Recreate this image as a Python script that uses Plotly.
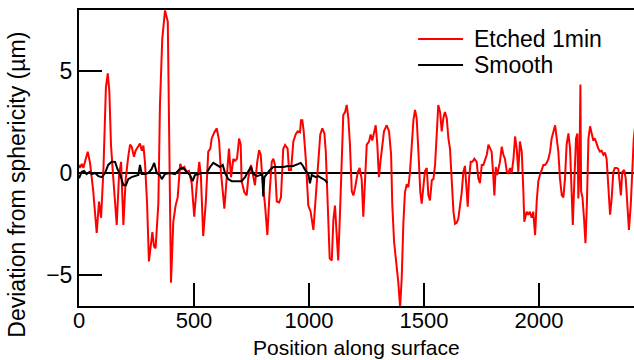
import plotly.graph_objects as go

# Etched 1min profile (position along surface, deviation in µm)
etched_x = [0, 4, 12, 19, 26, 38, 48, 62, 77, 87, 96, 106, 117, 125, 132, 139, 149, 164, 174, 183,
            193, 203, 214, 222, 229, 239, 246, 255, 265, 273, 280, 287, 296, 304, 319, 326, 333, 345,
            352, 362, 374, 386, 391, 400, 410, 420, 429, 435, 440, 449, 458, 468, 478, 490, 501, 512,
            523, 530, 540, 551, 562, 571, 577, 588, 599, 609, 617, 632, 642, 652, 661, 671, 678, 687,
            696, 703, 707, 719, 729, 736, 748, 758, 765, 775, 783, 790, 797, 809, 819, 828, 838, 845,
            852, 860, 870, 878, 888, 896, 907, 913, 922, 932, 942, 951, 961, 965, 971, 977, 986, 997,
            1007, 1019, 1029, 1041, 1049, 1058, 1067, 1073, 1081, 1090, 1099, 1106, 1113, 1120, 1127,
            1135, 1142, 1149, 1157, 1164, 1171, 1178, 1186, 1193, 1200, 1212, 1220, 1229, 1236, 1243,
            1251, 1261, 1268, 1275, 1283, 1290, 1297, 1304, 1312, 1319, 1326, 1338, 1348, 1357, 1362,
            1370, 1381, 1388, 1396, 1403, 1410, 1417, 1425, 1432, 1439, 1447, 1454, 1461, 1468, 1475,
            1484, 1490, 1497, 1504, 1512, 1519, 1526, 1534, 1541, 1548, 1555, 1562, 1570, 1577, 1584,
            1591, 1599, 1606, 1613, 1621, 1628, 1635, 1642, 1649, 1656, 1664, 1671, 1678, 1686, 1690,
            1696, 1703, 1710, 1719, 1729, 1736, 1743, 1751, 1758, 1765, 1773, 1780, 1787, 1794, 1801,
            1806, 1812, 1818, 1830, 1838, 1845, 1852, 1860, 1867, 1874, 1881, 1889, 1896, 1903, 1910,
            1917, 1925, 1932, 1936, 1946, 1953, 1960, 1968, 1975, 1983, 1990, 1997, 2004, 2012, 2019,
            2026, 2033, 2041, 2048, 2055, 2062, 2070, 2077, 2084, 2091, 2099, 2106, 2113, 2120, 2128,
            2135, 2142, 2147, 2154, 2161, 2167, 2171, 2176, 2180, 2183, 2189, 2196, 2202, 2208, 2215,
            2222, 2229, 2236, 2243, 2251, 2258, 2265, 2272, 2280, 2287, 2294, 2301, 2309, 2316, 2323,
            2330, 2338, 2345, 2356, 2362, 2370, 2377, 2384, 2391, 2399, 2406, 2412, 2420]
etched_y = [0.4, 0.25, 0.45, 0.25, 0.55, 1.05, 0.5, -0.9, -2.95, -1.4, -2.2, 0.1, 4.2, 4.9, 4.0, 1.4,
            -0.25, -2.55, -0.1, 0.55, -2.55, -0.3, 0.8, 1.4, 1.3, 0.8, 1.1, 1.3, 1.45, 1.1, 1.35, 0.5,
            -1.5, -4.35, -2.9, -3.6, -3.7, -1.5, 3.35, 6.6, 8.0, 7.45, 3.35, -5.4, -2.4, -1.6, -1.2,
            -0.26, 0.45, 0.2, 0.3, 0.05, 0.1, -0.5, -2.15, -0.6, 0.55, -0.15, -3.1, -1.5, 1.05, 1.2,
            1.7, 2.0, 2.2, 1.6, 0.06, -1.75, -0.4, 1.2, -0.2, 0.7, 0.6, 0.7, 1.7, 1.4, -0.4, -0.95,
            -1.1, -0.25, 0.4, -0.1, -0.6, 0.55, 1.13, 0.9, -0.26, -1.6, -3.05, -1.1, 0.55, 0.7, 0.4,
            -1.4, -1.45, -1.2, 1.2, 1.38, 1.2, 0.15, 0.15, 1.55, 1.9, 2.05, 2.0, 2.6, 2.6, 2.05, 0.7,
            -1.6, -1.9, -2.8, -1.25, 1.05, 1.9, 2.2, 1.95, 1.05, -1.6, -4.2, -4.3, -2.3, -1.6, -3.0,
            -4.3, -1.9, 1.05, 2.85, 3.0, 3.35, 2.7, 1.4, -0.9, -1.1, -0.75, 0.05, 0.25, -0.3, -2.15,
            -0.3, 1.4, 1.55, 1.9, 1.6, 2.1, 2.35, 1.4, -0.2, 0.7, 1.4, 2.05, 2.35, 2.05, 0.9, -1.55,
            -3.4, -4.5, -5.35, -6.6, -5.2, -2.55, -0.95, -0.55, -0.7, 0.06, 1.4, 2.6, 3.1, 2.7, 1.2,
            -0.95, -1.5, -0.6, 0.1, 0.25, -1.1, -1.35, -0.35, -0.3, 0.4, 1.85, 3.35, 3.0, 2.05, 2.7,
            3.0, 2.7, 1.7, 1.2, -0.5, -1.9, -2.5, -2.45, -2.25, -1.6, -0.95, 0.06, 0.35, -0.95, -1.65,
            -0.26, 0.55, 0.55, 0.7, 0.55, -0.26, -0.5, 0.4, 0.4, 0.6, 0.9, 1.4, 1.2, 1.05, -0.1, -1.1,
            0.3, -0.1, 0.55, 1.3, 0.9, 0.7, 0.06, 0.0, 0.25, 0.0, 0.7, 1.8, 1.2, 0.06, 1.55, 1.05,
            -0.9, -2.4, -1.9, -2.05, -1.9, -2.2, -1.9, -3.05, -1.4, -0.4, -0.1, 0.2, 0.4, 0.4, 0.5,
            0.7, 1.05, 1.7, 2.05, 2.35, 1.7, 1.05, -0.26, -1.1, -1.2, -0.26, 1.4, 1.95, 1.2, -1.3,
            -2.55, -0.26, 1.7, 1.95, -1.25, 0.4, 4.35, -0.9, -1.2, -2.3, -3.45, -1.6, 1.7, 2.3, 1.9,
            1.6, 1.7, 1.4, 1.2, 1.05, 1.1, 0.9, 1.0, 0.7, -0.9, -2.05, -1.25, 0.06, 0.25, 0.25, 0.2,
            -1.1, 0.06, 0.15, -0.26, -1.55, -2.8, -1.55, 0.55, 1.7, 2.5]

# Smooth profile
smooth_x = [0, 12, 22, 33, 45, 55, 70, 84, 99, 113, 127, 142, 157, 167, 178, 193, 204, 214, 229, 243,
            258, 265, 273, 287, 301, 316, 327, 338, 352, 360, 374, 396, 417, 439, 453, 468, 483, 494,
            504, 519, 533, 555, 570, 584, 599, 613, 625, 635, 649, 664, 686, 707, 722, 736, 747, 758,
            773, 787, 797, 801, 806, 816, 830, 845, 867, 888, 910, 932, 954, 964, 974, 983, 997, 1004,
            1012, 1022, 1030, 1040, 1055, 1070, 1080]
smooth_y = [-0.26, 0.06, 0.1, -0.05, 0.05, -0.05, 0.0, -0.15, -0.2, 0.0, 0.4, 0.56, 0.55, 0.2, -0.05,
            -0.6, -0.6, -0.3, -0.2, -0.15, -0.1, 0.4, -0.05, -0.05, 0.0, 0.2, 0.5, 0.0, -0.1, -0.3,
            -0.05, 0.0, -0.05, 0.2, 0.25, 0.05, -0.1, -0.4, -0.1, -0.05, 0.0, 0.0, 0.3, 0.5, 0.4, 0.3,
            0.4, 0.0, -0.3, -0.4, -0.4, -0.4, -0.2, 0.1, 0.3, -0.05, -0.15, -0.1, -0.05, -1.15, -0.2,
            -0.05, 0.15, 0.3, 0.3, 0.3, 0.35, 0.35, 0.45, 0.5, 0.35, 0.15, -0.05, -0.5, -0.1, -0.15,
            -0.2, -0.15, -0.25, -0.35, -0.5]

series_names = ["Etched 1min", "Smooth"]
series_colors = ["#ff0000", "#000000"]

x_ticks = [0, 500, 1000, 1500, 2000]
y_ticks = [-5, 0, 5]
x_title = "Position along surface"
y_title = "Deviation from sphericity (\u00b5m)"

FONT = "Arial, 'Liberation Sans', sans-serif"
FS = 23

fig = go.Figure()
fig.add_trace(go.Scatter(x=etched_x, y=etched_y, mode="lines", name=series_names[0],
                         line=dict(color=series_colors[0], width=2), showlegend=False))
fig.add_trace(go.Scatter(x=smooth_x, y=smooth_y, mode="lines", name=series_names[1],
                         line=dict(color=series_colors[1], width=2), showlegend=False))

# Legend drawn by hand so the entry spacing matches the original
legend_rows = [0.902, 0.814]
for name, color, yp in zip(series_names, series_colors, legend_rows):
    fig.add_shape(type="line", xref="paper", yref="paper", x0=0.611, x1=0.692, y0=yp, y1=yp,
                  line=dict(color=color, width=2))
    fig.add_annotation(xref="paper", yref="paper", x=0.708, y=yp, text=name, showarrow=False,
                       xanchor="left", yanchor="middle", font=dict(family=FONT, size=FS, color="black"))

# Axis titles
fig.add_annotation(xref="paper", yref="paper", x=0.5, y=0, yshift=-41, text=x_title,
                   showarrow=False, xanchor="center", yanchor="middle",
                   font=dict(family=FONT, size=21, color="black"))
fig.add_annotation(xref="paper", yref="paper", x=0, y=0.41, xshift=-62, text=y_title,
                   textangle=-90, showarrow=False, xanchor="center", yanchor="middle",
                   font=dict(family=FONT, size=FS, color="black"))

fig.update_layout(
    width=634, height=360,
    margin=dict(l=79, r=0, t=10, b=54),
    paper_bgcolor="white", plot_bgcolor="white",
    font=dict(family=FONT, size=FS, color="black"),
    showlegend=False,
    xaxis=dict(range=[0, 2413], tickvals=x_ticks, ticks="inside", ticklen=23, tickwidth=2,
               tickcolor="black", showline=True, linecolor="black", linewidth=2, mirror=True,
               showgrid=False, zeroline=False, tickfont=dict(size=22), ticklabelstandoff=-6),
    yaxis=dict(range=[-6.54, 8.02], tickvals=y_ticks, ticks="inside", ticklen=23, tickwidth=2,
               tickcolor="black", showline=True, linecolor="black", linewidth=2, mirror=False,
               showgrid=False, zeroline=True, zerolinecolor="black", zerolinewidth=1.5,
               tickfont=dict(size=FS)),
)

fig.write_html("out.html")
